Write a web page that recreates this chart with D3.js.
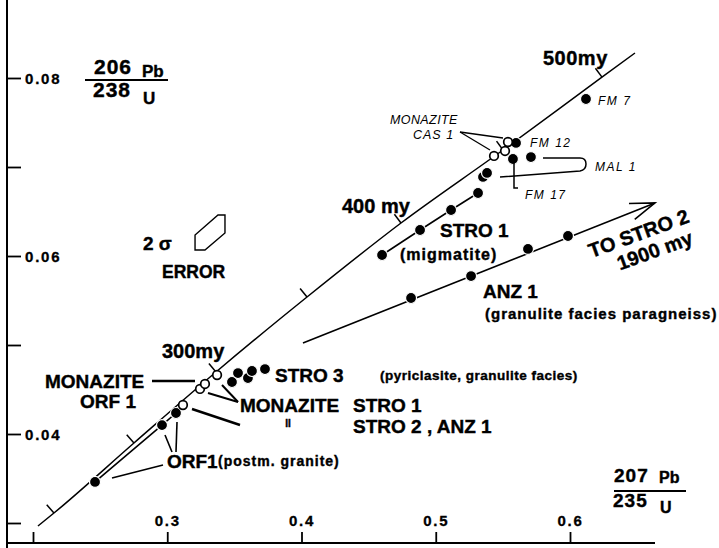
<!DOCTYPE html>
<html>
<head>
<meta charset="utf-8">
<script src="https://cdn.jsdelivr.net/npm/d3@7"></script>
<style>
body { margin: 0; background: #fff; }
svg { display: block; font-family: "Liberation Sans", Arial, sans-serif; }
</style>
</head>
<body>
<div id="chart"></div>
<script>
// values: x = 207Pb/235U, y = 206Pb/238U
concordiaX = [0.2037, 0.2156, 0.2752, 0.3363, 0.4041, 0.4741, 0.5501, 0.6238, 0.6484]
concordiaY = [0.02966, 0.03112, 0.03899, 0.04697, 0.05539, 0.06371, 0.07191, 0.0801, 0.08281]
concordiaAges = ["", 200, 250, 300, 350, 400, 450, 500, ""]

orf1X = [0.2462, 0.2961, 0.3065]
orf1Y = [0.03461, 0.0410, 0.04236]
monaziteX = [0.3117, 0.3244, 0.3281, 0.3371]
monaziteY = [0.04326, 0.04506, 0.04562, 0.04663]
stro3X = [0.3482, 0.3527, 0.3601, 0.3631, 0.3728]
stro3Y = [0.04584, 0.04685, 0.04629, 0.04708, 0.0473]
stro1X = [0.46, 0.4883, 0.5114, 0.5315, 0.5352, 0.5382]
stro1Y = [0.06011, 0.06292, 0.06517, 0.06708, 0.06888, 0.06933]
anz1X = [0.4816, 0.5263, 0.5687, 0.5985]
anz1Y = [0.05528, 0.05775, 0.06079, 0.06225]
anz1TrendX = [0.4011, 0.6633]
anz1TrendY = [0.05022, 0.06596]
cas1X = [0.5538, 0.5516, 0.5434]
cas1Y = [0.07281, 0.0718, 0.07124]
fmNames = ["FM 7", "FM 12", "FM 17", "MAL 1"]
fmX = [0.6119, 0.5598, 0.5575, 0.5709]
fmY = [0.07764, 0.0727, 0.0709, 0.07112]
// 2 sigma error box outline
errorX = [0.3207, 0.3207, 0.3378, 0.343, 0.343, 0.3281]
errorY = [0.06067, 0.06236, 0.06461, 0.06461, 0.06258, 0.06067]

xTicks = [0.2, 0.3, 0.4, 0.5, 0.6]
xTickLabels = ["", "0.3", "0.4", "0.5", "0.6"]
yTicks = [0.03, 0.04, 0.05, 0.06, 0.07, 0.08]
yTickLabels = ["", "0.04", "", "0.06", "", "0.08"]

width = 719
height = 548

x = d3.scaleLinear().domain([0.2, 0.6]).range([33, 570])
y = d3.scaleLinear().domain([0.03, 0.08]).range([523, 78])

const svg = d3.select("#chart").append("svg")
    .attr("width", width)
    .attr("height", height)

const zip = (xs, ys) => xs.map((v, i) => [v, ys[i]])

// axes
const xAxis = d3.axisTop(x)
    .tickValues(xTicks)
    .tickSize(11)
    .tickPadding(6)
    .tickFormat((d, i) => xTickLabels[i])
const yAxis = d3.axisRight(y)
    .tickValues(yTicks)
    .tickSize(14)
    .tickPadding(4)
    .tickFormat((d, i) => yTickLabels[i])

const gx = svg.append("g")
    .attr("transform", "translate(0,543)")
    .call(xAxis)
gx.select(".domain").remove()
gx.append("line").attr("x1", 7).attr("x2", 655).attr("stroke", "#000").attr("stroke-width", 2)

const gy = svg.append("g")
    .attr("transform", "translate(7,0)")
    .call(yAxis)
gy.select(".domain").remove()
gy.append("line").attr("y1", 0).attr("y2", height).attr("stroke", "#000").attr("stroke-width", 2)

svg.selectAll(".tick line").attr("stroke", "#000").attr("stroke-width", 1.8)
svg.selectAll("g").attr("font-family", null).attr("font-size", null)
svg.selectAll(".tick text")
    .attr("fill", "#000")
    .attr("stroke", "#000")
    .attr("stroke-width", 0.3)
    .attr("font-size", 15)
    .attr("font-weight", "bold")
    .attr("letter-spacing", 1.8)
gy.selectAll(".tick text").attr("dy", "0.36em")

// concordia
const cPts = zip(concordiaX, concordiaY)
svg.append("path")
    .datum(cPts)
    .attr("fill", "none")
    .attr("stroke", "#000")
    .attr("stroke-width", 1.5)
    .attr("d", d3.line().x(d => x(d[0])).y(d => y(d[1])).curve(d3.curveMonotoneX))

cPts.forEach((p, i) => {
    if (concordiaAges[i] === "") return
    const a = cPts[i - 1], b = cPts[i + 1]
    let dx = x(b[0]) - x(a[0]), dy = y(b[1]) - y(a[1])
    const len = Math.hypot(dx, dy)
    dx /= len; dy /= len
    const px = x(p[0]), py = y(p[1])
    svg.append("line")
        .attr("x1", px).attr("y1", py)
        .attr("x2", px + dy * 11).attr("y2", py - dx * 11)
        .attr("stroke", "#000").attr("stroke-width", 1.5)
})

// discordia lines
const lineGen = d3.line().x(d => x(d[0])).y(d => y(d[1]))
const trends = [
    zip(orf1X, orf1Y).concat([[monaziteX[0], monaziteY[0]]]),
    zip(stro1X.slice(0, 4), stro1Y.slice(0, 4)),
    zip(anz1TrendX, anz1TrendY)
]
svg.selectAll(".trend")
    .data(trends)
    .enter().append("path")
    .attr("class", "trend")
    .attr("fill", "none")
    .attr("stroke", "#000")
    .attr("stroke-width", 1.6)
    .attr("d", lineGen)

// open arrow head for ANZ1 trend
{
    const x0 = x(anz1TrendX[0]), y0 = y(anz1TrendY[0])
    const x1 = x(anz1TrendX[1]), y1 = y(anz1TrendY[1])
    const ang = Math.atan2(y0 - y1, x0 - x1)
    const head = [0.36, -0.3].map(a => [x1 + 26 * Math.cos(ang + a), y1 + 26 * Math.sin(ang + a)])
    svg.append("path")
        .attr("fill", "none")
        .attr("stroke", "#000")
        .attr("stroke-width", 1.6)
        .attr("d", `M${head[0]}L${x1},${y1}L${head[1]}`)
}

// error box
svg.append("path")
    .datum(zip(errorX, errorY))
    .attr("fill", "none")
    .attr("stroke", "#000")
    .attr("stroke-width", 1.4)
    .attr("d", d => lineGen(d) + "Z")

// filled points
const filled = [].concat(
    zip(orf1X, orf1Y), zip(stro3X, stro3Y), zip(stro1X, stro1Y),
    zip(anz1X, anz1Y), zip(fmX, fmY))
svg.selectAll(".dot")
    .data(filled)
    .enter().append("circle")
    .attr("class", "dot")
    .attr("cx", d => x(d[0]))
    .attr("cy", d => y(d[1]))
    .attr("r", 5.5)
    .attr("fill", "#000")
    .attr("stroke", "#fff")
    .attr("stroke-width", 1.2)

// open points (monazites)
const open = [].concat(zip(monaziteX, monaziteY), zip(cas1X, cas1Y))
svg.selectAll(".open")
    .data(open)
    .enter().append("circle")
    .attr("class", "open")
    .attr("cx", d => x(d[0]))
    .attr("cy", d => y(d[1]))
    .attr("r", 4.3)
    .attr("fill", "#fff")
    .attr("stroke", "#000")
    .attr("stroke-width", 1.7)

// leader lines
const leaders = [
    [[[460, 132], [503, 138]], 1.3],
    [[[460, 132], [490, 150]], 1.3],
    [[[514, 160], [514, 188], [518, 188]], 1.5],
    [[[152, 381], [195, 381]], 2.4],
    [[[208, 393], [238, 402]], 2],
    [[[222, 385], [238, 402]], 2],
    [[[192, 409], [240, 425]], 2.4],
    [[[172, 452], [165, 435]], 1.6],
    [[[176, 452], [177, 422]], 1.6],
    [[[163, 465], [112, 478]], 1.6]
]
leaders.forEach(([pts, w]) => {
    svg.append("path")
        .attr("fill", "none")
        .attr("stroke", "#000")
        .attr("stroke-width", w)
        .attr("d", d3.line()(pts))
})
svg.append("path")
    .attr("fill", "none")
    .attr("stroke", "#000")
    .attr("stroke-width", 1.5)
    .attr("d", "M543,158H580Q586,158 586,164Q586,170 580,171L500,177")

// text
function label(txt, px, py, size, opts = {}) {
    const t = svg.append("text")
        .attr("x", px).attr("y", py)
        .attr("fill", "#000")
        .attr("font-size", size)
        .attr("font-weight", opts.normal ? "normal" : "bold")
        .attr("font-style", opts.italic ? "italic" : "normal")
        .attr("letter-spacing", opts.ls || 0)
        .attr("text-anchor", opts.anchor || "start")
        .text(txt)
    if (!opts.normal) t.attr("stroke", "#000").attr("stroke-width", 0.4)
    if (opts.rotate) t.attr("transform", `rotate(${opts.rotate},${px},${py})`)
    return t
}

// axis titles as fractions
label("206", 94, 74, 21, {ls: 1})
label("Pb", 142, 77, 17)
svg.append("line").attr("x1", 85).attr("x2", 168).attr("y1", 80).attr("y2", 80).attr("stroke", "#000").attr("stroke-width", 2)
label("238", 93, 97, 21, {ls: 1})
label("U", 143, 104, 17)

label("207", 614, 482, 19, {ls: 1})
label("Pb", 659, 483, 16)
svg.append("line").attr("x1", 614).attr("x2", 686).attr("y1", 491).attr("y2", 491).attr("stroke", "#000").attr("stroke-width", 2)
label("235", 613, 507, 19, {ls: 1})
label("U", 660, 513, 16)

label("500my", 543, 65, 20, {ls: 0.5})
label("400 my", 342, 213, 20)
label("300my", 162, 358, 20)

label("2 σ", 143, 250, 19)
label("ERROR", 162, 278, 17.5)

label("STRO 1", 440, 237, 19)
label("(migmatite)", 400, 260, 16, {ls: 1})
label("ANZ 1", 483, 298, 19)
label("(granulite facies paragneiss)", 485, 319, 15, {ls: 1})
label("TO STRO 2", 641, 240, 20, {anchor: "middle", rotate: -20})
label("1900 my", 657, 257, 20, {anchor: "middle", rotate: -20})

label("STRO 3", 275, 382, 19)
label("(pyriclasite, granulite facies)", 380, 380, 13.5, {ls: 0.5})
label("MONAZITE", 45, 388, 19)
label("ORF 1", 80, 408, 19)
label("MONAZITE", 240, 412, 19)
label("II", 288, 427, 10, {anchor: "middle"})
label("STRO 1", 353, 412, 19)
label("STRO 2 , ANZ 1", 353, 433, 19)
label("ORF1", 167, 468, 19)
label("(postm. granite)", 218, 466, 14, {ls: 1})

label("MONAZITE", 390, 124, 12.5, {italic: true, normal: true, ls: 0.4})
label("CAS 1", 413, 139, 12.5, {italic: true, normal: true, ls: 1})
fmNames.forEach((n, i) => {
    const pos = [[598, 105], [530, 147], [525, 199], [595, 171]][i]
    label(n, pos[0], pos[1], 12, {italic: true, normal: true, ls: 1.5})
})
</script>
</body>
</html>
